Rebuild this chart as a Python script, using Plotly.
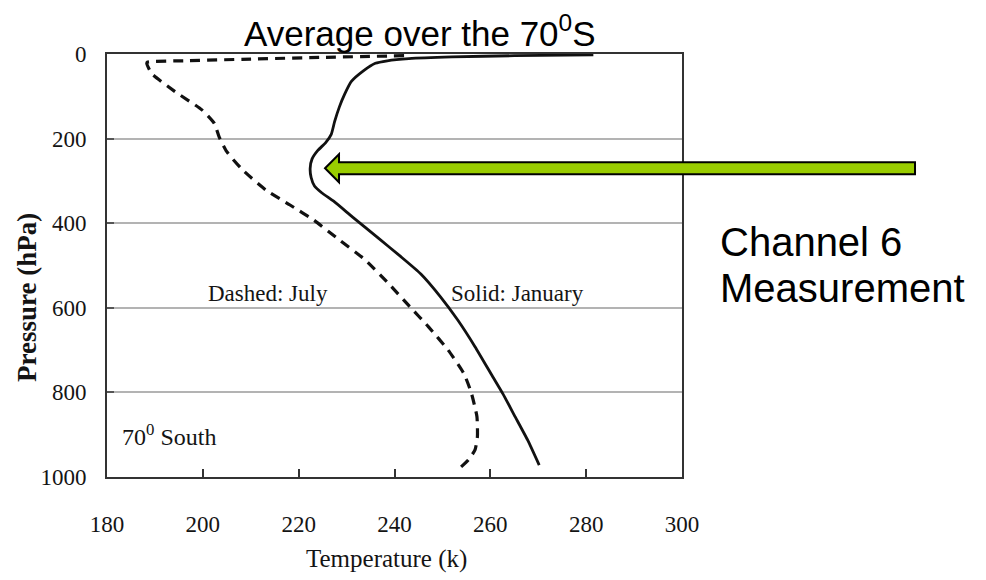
import plotly.graph_objects as go

# Temperature profiles at 70 S (temperature in K, pressure in hPa)
jan_temp = [281.5, 265.0, 252.0, 243.0, 238.5, 236.0, 233.5, 231.0, 229.6, 228.5,
            227.5, 226.8, 225.6, 224.0, 222.8, 222.4, 222.6, 223.3, 224.8, 227.3,
            231.2, 236.7, 241.2, 245.5, 249.6, 253.2, 256.8, 260.5, 262.6, 265.2,
            267.8, 270.2]
jan_pres = [2, 4, 7, 11, 16, 22, 40, 65, 95, 125,
            160, 190, 210, 228, 248, 270, 292, 312, 328, 348,
            385, 436, 478, 520, 574, 629, 692, 763, 803, 858,
            913, 972]

jul_temp = [242.0, 225.0, 210.0, 196.0, 188.5, 188.3, 189.3, 194.2, 199.8, 202.4,
            203.4, 205.0, 208.3, 213.2, 218.2, 223.2, 228.1, 233.9, 238.8, 243.0,
            247.1, 251.2, 254.5, 256.0, 257.2, 257.3, 256.8, 255.4, 253.9]
jul_pres = [4, 8, 12, 16, 19, 22, 46, 89, 132, 164,
            196, 231, 274, 322, 357, 393, 436, 487, 543, 595,
            645, 700, 756, 800, 857, 905, 936, 960, 976]

x_ticks = [180, 200, 220, 240, 260, 280, 300]
y_ticks = [0, 200, 400, 600, 800, 1000]

# Level pointed at by the channel 6 arrow
arrow_tip_temp = 225.5
arrow_tip_pres = 270

X_RANGE = [180, 300]
Y_RANGE = [1000, 0]

W, H = 986, 580
M_L, M_R, M_T, M_B = 107, 304, 54, 103
PW, PH = W - M_L - M_R, H - M_T - M_B

SERIF = "Times New Roman, Liberation Serif, serif"
SANS = "Arial, Liberation Sans, sans-serif"
INK = "#141414"

fig = go.Figure()

fig.add_trace(go.Scatter(
    x=jul_temp, y=jul_pres, mode="lines", name="July",
    line=dict(color="#111111", width=3.2, dash="10px,7px",
              shape="spline", smoothing=0.5),
    hoverinfo="skip",
))
fig.add_trace(go.Scatter(
    x=jan_temp, y=jan_pres, mode="lines", name="January",
    line=dict(color="#111111", width=2.8, shape="spline", smoothing=0.5),
    hoverinfo="skip",
))


def to_px(dx):
    return dx / PW


def to_py(dy):
    return dy / PH


# Green arrow (paper coordinates, tip taken from the data scale)
tip_x = (arrow_tip_temp - X_RANGE[0]) / (X_RANGE[1] - X_RANGE[0])
tip_y = 1 - arrow_tip_pres / 1000
head_len = to_px(14)
head_half = to_py(14)
shaft_half = to_py(6)
tail_x = tip_x + to_px(590)
pts = [
    (tip_x, tip_y),
    (tip_x + head_len, tip_y + head_half),
    (tip_x + head_len, tip_y + shaft_half),
    (tail_x, tip_y + shaft_half),
    (tail_x, tip_y - shaft_half),
    (tip_x + head_len, tip_y - shaft_half),
    (tip_x + head_len, tip_y - head_half),
]
path = "M " + " L ".join(f"{x:.5f},{y:.5f}" for x, y in pts) + " Z"
fig.add_shape(type="path", path=path, xref="paper", yref="paper",
              fillcolor="#99CC00", line=dict(color="#000000", width=2),
              layer="above")


def px_x(p):
    return (p - M_L) / PW


def px_y(p):
    return 1 - (p - M_T) / PH


annotations = [
    # title
    dict(text="Average over the 70<sup>0</sup>S", x=px_x(420), y=px_y(31),
         xref="paper", yref="paper", xanchor="center", yanchor="middle",
         showarrow=False, font=dict(family=SANS, size=35, color="#000000")),
    # side labels
    dict(text="Channel 6", x=px_x(718), y=px_y(242),
         xref="paper", yref="paper", xanchor="left", yanchor="middle",
         showarrow=False, font=dict(family=SANS, size=40, color="#000000")),
    dict(text="Measurement", x=px_x(718), y=px_y(288),
         xref="paper", yref="paper", xanchor="left", yanchor="middle",
         showarrow=False, font=dict(family=SANS, size=40, color="#000000")),
    # axis titles
    dict(text="<b>Pressure (hPa)</b>", x=px_x(27), y=px_y(298),
         xref="paper", yref="paper", xanchor="center", yanchor="middle",
         textangle=-90, showarrow=False,
         font=dict(family=SERIF, size=27, color=INK)),
    dict(text="Temperature (k)", x=px_x(386), y=px_y(559),
         xref="paper", yref="paper", xanchor="center", yanchor="middle",
         showarrow=False, font=dict(family=SERIF, size=25, color=INK)),
    # in-plot labels
    dict(text="Dashed: July", x=213.6, y=565, xref="x", yref="y",
         xanchor="center", yanchor="middle", showarrow=False,
         font=dict(family=SERIF, size=23, color=INK)),
    dict(text="Solid: January", x=265.6, y=565, xref="x", yref="y",
         xanchor="center", yanchor="middle", showarrow=False,
         font=dict(family=SERIF, size=23, color=INK)),
    dict(text="70<sup>0</sup> South", x=182.7, y=900, xref="x", yref="y",
         xanchor="left", yanchor="middle", showarrow=False,
         font=dict(family=SERIF, size=24, color=INK)),
]

fig.update_layout(
    width=W, height=H,
    margin=dict(l=M_L, r=M_R, t=M_T, b=M_B, pad=0),
    paper_bgcolor="white", plot_bgcolor="white",
    showlegend=False,
    annotations=annotations,
)

fig.update_xaxes(
    range=X_RANGE, tickmode="array", tickvals=x_ticks,
    ticktext=[str(v) for v in x_ticks],
    ticks="inside", ticklen=8, tickwidth=1.5, tickcolor="#333333",
    ticklabelstandoff=25,
    tickfont=dict(family=SERIF, size=23, color=INK),
    showgrid=False, zeroline=False,
    showline=True, linecolor="#333333", linewidth=2, mirror=True,
)
fig.update_yaxes(
    range=Y_RANGE, tickmode="array", tickvals=y_ticks,
    ticktext=[str(v) for v in y_ticks],
    ticks="inside", ticklen=7, tickwidth=2, tickcolor="#555555",
    ticklabelstandoff=14,
    tickfont=dict(family=SERIF, size=23, color=INK),
    showgrid=True, gridcolor="#b3b3b3", gridwidth=2, zeroline=False,
    showline=True, linecolor="#333333", linewidth=2, mirror=True,
)

fig.write_html("out.html")
